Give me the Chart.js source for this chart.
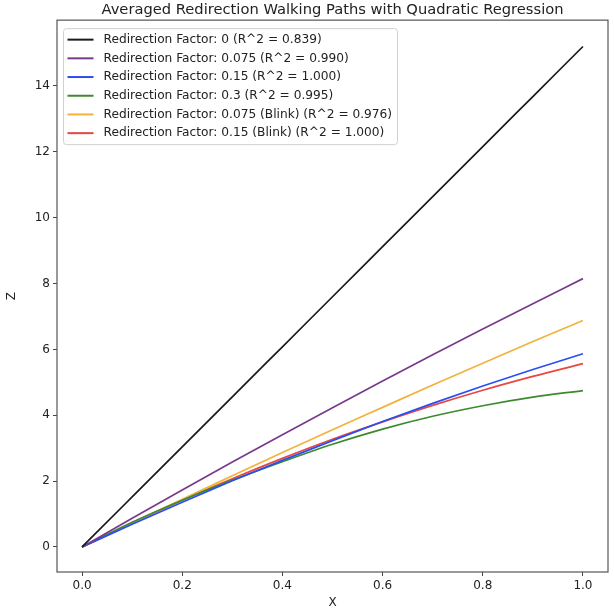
<!DOCTYPE html>
<html>
<head>
<meta charset="utf-8">
<script src="https://cdn.jsdelivr.net/npm/chart.js@4.4.1/dist/chart.umd.min.js"></script>
<style>
  html, body { margin: 0; padding: 0; background: #fff; }
  #wrap { width: 614px; height: 612px; }
</style>
</head>
<body>
<div id="wrap"><canvas id="chart" width="614" height="612"></canvas></div>
<script>
// Sampled x positions
const xs = [0, 0.1, 0.2, 0.3, 0.4, 0.5, 0.6, 0.7, 0.8, 0.9, 1.0];

// Z values for each redirection factor
const zFactor0 = [0, 1.52, 3.04, 4.56, 6.08, 7.60, 9.12, 10.64, 12.16, 13.68, 15.2];
const zFactor075 = [0, 0.87, 1.73, 2.58, 3.41, 4.23, 5.04, 5.84, 6.62, 7.39, 8.15];
const zFactor15 = [0, 0.69, 1.36, 2.01, 2.63, 3.23, 3.81, 4.36, 4.89, 5.39, 5.87];
const zFactor3 = [0, 0.75, 1.42, 2.03, 2.59, 3.12, 3.58, 3.97, 4.29, 4.55, 4.75];
const zFactor075Blink = [0, 0.73, 1.45, 2.16, 2.87, 3.56, 4.24, 4.92, 5.58, 6.24, 6.88];
const zFactor15Blink = [0, 0.72, 1.42, 2.07, 2.69, 3.27, 3.80, 4.30, 4.76, 5.18, 5.57];

const labels = [
  "Redirection Factor: 0 (R^2 = 0.839)",
  "Redirection Factor: 0.075 (R^2 = 0.990)",
  "Redirection Factor: 0.15 (R^2 = 1.000)",
  "Redirection Factor: 0.3 (R^2 = 0.995)",
  "Redirection Factor: 0.075 (Blink) (R^2 = 0.976)",
  "Redirection Factor: 0.15 (Blink) (R^2 = 1.000)"
];
const series = [zFactor0, zFactor075, zFactor15, zFactor3, zFactor075Blink, zFactor15Blink];
const colors = ["#1a1a1a", "#7a3a8c", "#2b4ef2", "#3d8a2e", "#f2b23c", "#e8473e"];

const xTicks = [0, 0.2, 0.4, 0.6, 0.8, 1.0];
const yTicks = [0, 2, 4, 6, 8, 10, 12, 14];

const FONT = "'DejaVu Sans', sans-serif";

// frame round the plot and legend inside it
const framePlugin = {
  id: "frame",
  afterDraw(chart) {
    const { ctx, chartArea: a } = chart;
    ctx.save();
    ctx.strokeStyle = "#555";
    ctx.lineWidth = 1.2;
    ctx.strokeRect(a.left, a.top, a.right - a.left, a.bottom - a.top);

    // legend box
    const bx = a.left + 6.5, by = a.top + 8.5, bw = 334, bh = 116;
    ctx.fillStyle = "rgba(255,255,255,0.85)";
    ctx.strokeStyle = "#d0d0d0";
    ctx.lineWidth = 1;
    ctx.beginPath();
    ctx.roundRect(bx, by, bw, bh, 3);
    ctx.fill();
    ctx.stroke();

    ctx.font = "12.2px " + FONT;
    ctx.textBaseline = "middle";
    labels.forEach((lab, i) => {
      const y = by + 11 + i * 18.7;
      ctx.strokeStyle = colors[i];
      ctx.lineWidth = 2;
      ctx.beginPath();
      ctx.moveTo(bx + 4, y);
      ctx.lineTo(bx + 30, y);
      ctx.stroke();
      ctx.fillStyle = "#222";
      ctx.fillText(lab, bx + 40, y);
    });
    ctx.restore();
  }
};

new Chart(document.getElementById("chart"), {
  type: "line",
  data: {
    datasets: series.map((s, i) => ({
      label: labels[i],
      data: xs.map((x, j) => ({ x, y: s[j] })),
      borderColor: colors[i],
      borderWidth: 1.7,
      pointRadius: 0,
      cubicInterpolationMode: "monotone",
      fill: false
    }))
  },
  options: {
    responsive: false,
    animation: false,
    layout: { padding: { left: 0, right: 6, top: 0, bottom: 0 } },
    plugins: {
      legend: { display: false },
      tooltip: { enabled: false },
      title: {
        display: true,
        fullSize: false,
        text: "Averaged Redirection Walking Paths with Quadratic Regression",
        color: "#222",
        font: { family: FONT, size: 14.7, weight: "normal" },
        padding: { top: 1, bottom: 1.5 }
      }
    },
    scales: {
      x: {
        type: "linear",
        min: -0.05,
        max: 1.05,
        afterBuildTicks(scale) { scale.ticks = xTicks.map(v => ({ value: v })); },
        afterFit(scale) { scale.height = 40; },
        grid: { display: true, drawOnChartArea: false, tickLength: 4, tickColor: "#444", tickWidth: 1 },
        border: { display: false },
        ticks: {
          color: "#222",
          padding: 3,
          font: { family: FONT, size: 12 },
          callback: v => v.toFixed(1)
        },
        title: {
          display: true,
          text: "X",
          color: "#222",
          font: { family: FONT, size: 12 },
          padding: { top: 0, bottom: 2 }
        }
      },
      y: {
        type: "linear",
        min: -0.76,
        max: 16.0,
        afterBuildTicks(scale) { scale.ticks = yTicks.map(v => ({ value: v })); },
        afterFit(scale) { scale.width = 57; },
        grid: { display: true, drawOnChartArea: false, tickLength: 4, tickColor: "#444", tickWidth: 1 },
        border: { display: false },
        ticks: {
          color: "#222",
          padding: 3,
          font: { family: FONT, size: 12 },
          callback: v => String(v)
        },
        title: {
          display: true,
          text: "Z",
          color: "#222",
          font: { family: FONT, size: 12 },
          padding: { top: 5, bottom: 0 }
        }
      }
    }
  },
  plugins: [framePlugin]
});
</script>
</body>
</html>
